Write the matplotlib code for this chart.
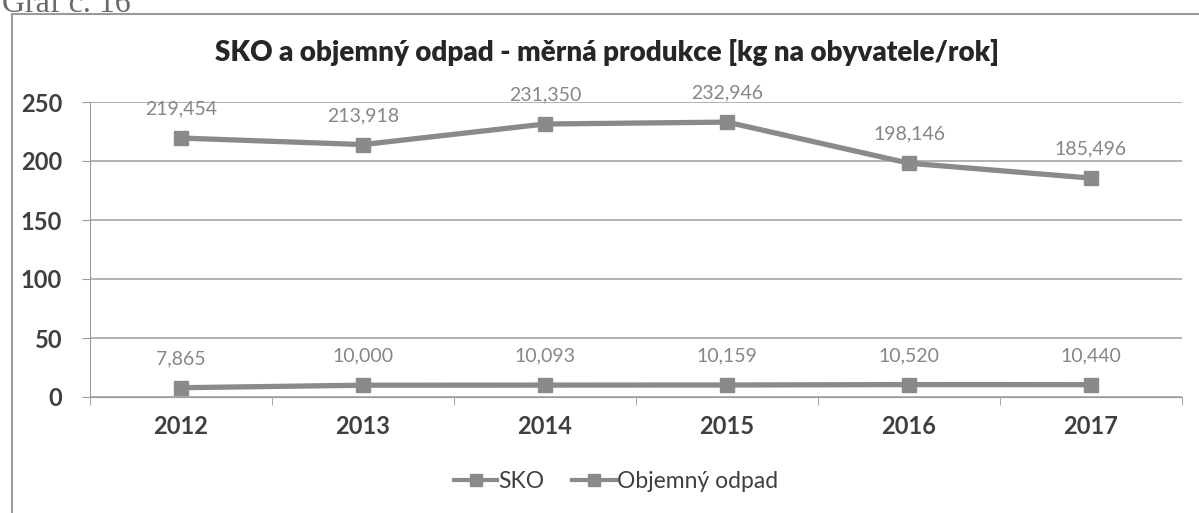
import numpy as np
from matplotlib import pyplot as plt
from matplotlib.patches import Rectangle
from matplotlib.lines import Line2D

# data
years = ["2012", "2013", "2014", "2015", "2016", "2017"]
sko = [219.454, 213.918, 231.350, 232.946, 198.146, 185.496]
objemny = [7.865, 10.000, 10.093, 10.159, 10.520, 10.440]
y_ticks = [0, 50, 100, 150, 200, 250]
series_names = ["SKO", "Objemný odpad"]

line_col = "#8a8a8a"
text_col = "#3f3f3f"
label_col = "#868686"
font = ["Lato", "DejaVu Sans"]

fig = plt.figure(figsize=(11.99, 5.13), dpi=100)

# frame of the scanned chart and the caption that is cut at the top
fig.patches.append(Rectangle((12 / 1199, -0.01), 1.2, 1 - 14 / 513 + 0.01, transform=fig.transFigure,
                             fill=False, edgecolor="#9a9a9a", linewidth=1.5))
fig.text(2 / 1199, 1 - 12 / 513, "Graf č. 16", family="Liberation Serif", fontsize=23, color="#6a6a6a",
         ha="left", va="baseline")

ax = fig.add_axes([90 / 1199, 116 / 513, 1092 / 1199, 295 / 513])
x = np.arange(len(years))

for vals, name in zip([sko, objemny], series_names):
    ax.plot(x, vals, color=line_col, linewidth=3.8, marker="s", markersize=10.5, label=name)
    for xi, v in zip(x, vals):
        ax.annotate(f"{v:.3f}".replace(".", ","), (xi, v), xytext=(0, 21), textcoords="offset points",
                    ha="center", va="center", fontsize=14, color=label_col, family=font)

ax.set_xlim(-0.5, len(years) - 0.5)
ax.set_ylim(0, 250)
ax.set_yticks(y_ticks)
ax.set_yticklabels([str(t) for t in y_ticks], fontsize=17, fontweight="bold", color=text_col, family=font)
ax.set_xticks(x)
ax.set_xticklabels(years, fontsize=17, fontweight="bold", color=text_col, family=font)
ax.tick_params(axis="x", length=0, pad=13)
ax.tick_params(axis="y", length=6, color="#9a9a9a", pad=14)
ax.set_xticks(np.arange(-0.5, len(years)), minor=True)
ax.tick_params(axis="x", which="minor", length=6, color="#9a9a9a", direction="out")

ax.grid(axis="y", color="#a6a6a6", linewidth=1.2)
ax.set_axisbelow(True)
for s in ["top", "right"]:
    ax.spines[s].set_visible(False)
ax.spines["left"].set_color("#9a9a9a")
ax.spines["bottom"].set_color("#9a9a9a")

fig.text(607 / 1199, 1 - 53 / 513, "SKO a objemný odpad - měrná produkce [kg na obyvatele/rok]",
         ha="center", va="center", fontsize=20, fontweight="heavy", color="#262626", family=font)

handles = [Line2D([], [], color=line_col, linewidth=3, marker="s", markersize=8) for _ in series_names]
fig.legend(handles, series_names, loc="center", bbox_to_anchor=(616 / 1199, 1 - 482 / 513), ncol=2,
           frameon=False, prop={"family": font, "size": 16.5}, handlelength=1.9, columnspacing=1.2,
           handletextpad=0.05, labelcolor=text_col)

plt.savefig("out.png", dpi=100)
